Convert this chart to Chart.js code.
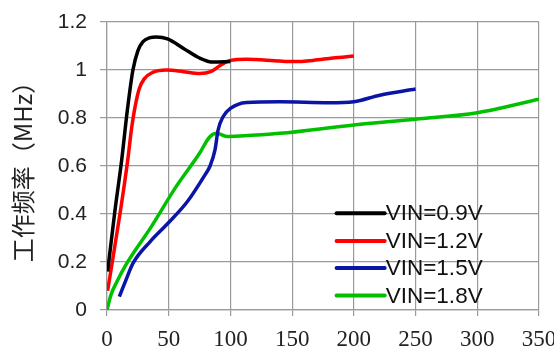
<!DOCTYPE html>
<html lang="zh">
<head>
    <meta charset="UTF-8">
    <title>工作频率</title>
    <script src="https://cdn.jsdelivr.net/npm/chart.js"></script>
    <style>
        html, body { margin: 0; padding: 0; background: #fff; }
        #wrap { width: 554px; height: 350px; }
    </style>
</head>
<body>
    <div id="wrap"><canvas id="freqChart"></canvas></div>

    <script>
        // series data
        const vin09X = [0.5, 6.5, 11.9, 16.5, 21, 25, 29, 35, 40, 49, 62, 75, 86, 100];
        const vin09Y = [0.16, 0.417, 0.625, 0.833, 1.0, 1.08, 1.117, 1.135, 1.138, 1.13, 1.09, 1.05, 1.033, 1.035];

        const vin12X = [0.5, 11, 16.8, 20, 22.5, 26, 30, 37, 48, 62, 75, 84, 92, 100, 113, 140, 151, 167, 183, 200];
        const vin12Y = [0.08, 0.417, 0.625, 0.76, 0.84, 0.92, 0.962, 0.99, 1.0, 0.993, 0.985, 0.993, 1.02, 1.04, 1.045, 1.037, 1.035, 1.04, 1.05, 1.058];

        const vin15X = [10, 15, 21, 35, 48, 65, 79, 83.5, 87.5, 90, 94, 100, 113, 140, 180, 200, 221, 250];
        const vin15Y = [0.056, 0.12, 0.194, 0.285, 0.354, 0.451, 0.56, 0.6, 0.667, 0.75, 0.805, 0.84, 0.865, 0.868, 0.864, 0.868, 0.895, 0.921];

        const vin18X = [0, 3, 8, 16, 35, 56, 75, 83, 89, 97, 108, 140, 200, 250, 300, 350];
        const vin18Y = [0, 0.06, 0.118, 0.194, 0.34, 0.514, 0.653, 0.72, 0.736, 0.723, 0.725, 0.736, 0.771, 0.795, 0.822, 0.878];

        const seriesLabels = ['VIN=0.9V', 'VIN=1.2V', 'VIN=1.5V', 'VIN=1.8V'];
        const seriesColors = ['#000000', '#ff0000', '#0a14a6', '#00c000'];
        const yTickLabels = ['0', '0.2', '0.4', '0.6', '0.8', '1', '1.2'];
        const xTickLabels = ['0', '50', '100', '150', '200', '250', '300', '350'];

        const toPoints = (xs, ys) => xs.map((x, i) => ({ x: x, y: ys[i] }));
        const allX = [vin09X, vin12X, vin15X, vin18X];
        const allY = [vin09Y, vin12Y, vin15Y, vin18Y];

        const datasets = seriesLabels.map((label, i) => ({
            label: label,
            data: toPoints(allX[i], allY[i]),
            borderColor: seriesColors[i],
            backgroundColor: seriesColors[i],
            borderWidth: 3.5,
            pointRadius: 0,
            fill: false,
            cubicInterpolationMode: 'monotone'
        }));

        // legend sits inside the plot, lower right
        const innerLegend = {
            id: 'innerLegend',
            afterDatasetsDraw(chart) {
                const ctx = chart.ctx;
                const xs = chart.scales.x;
                const ys = chart.scales.y;
                const x0 = xs.getPixelForValue(186);
                const x1 = xs.getPixelForValue(225);
                const rowY = [0.403, 0.288, 0.175, 0.06];
                ctx.save();
                ctx.font = '22.5px "Liberation Sans", Arial, sans-serif';
                ctx.textBaseline = 'middle';
                ctx.lineCap = 'round';
                chart.data.datasets.forEach((ds, i) => {
                    const y = ys.getPixelForValue(rowY[i]);
                    ctx.strokeStyle = ds.borderColor;
                    ctx.lineWidth = 4;
                    ctx.beginPath();
                    ctx.moveTo(x0, y);
                    ctx.lineTo(x1, y);
                    ctx.stroke();
                    ctx.fillStyle = '#111';
                    ctx.fillText(ds.label, x1 + 1, y + 1);
                });
                ctx.restore();
            }
        };

        const ctx = document.getElementById('freqChart').getContext('2d');
        const chart = new Chart(ctx, {
            type: 'line',
            data: { datasets: datasets },
            plugins: [innerLegend],
            options: {
                responsive: true,
                maintainAspectRatio: false,
                animation: false,
                layout: { padding: { top: 22, right: 15, left: 0, bottom: 0 } },
                plugins: {
                    legend: { display: false },
                    tooltip: { enabled: false }
                },
                scales: {
                    x: {
                        type: 'linear',
                        min: 0,
                        max: 350,
                        ticks: {
                            stepSize: 50,
                            padding: 10,
                            color: '#222',
                            font: { family: '"Liberation Serif", "DejaVu Serif", "Times New Roman", serif', size: 23 },
                            callback: (v, i) => xTickLabels[i]
                        },
                        grid: { color: '#9a9a9a', lineWidth: 1.2, tickLength: 6 },
                        border: { color: '#9a9a9a', width: 1.2 },
                        afterFit: (s) => { s.height = 40; s.paddingLeft = 0; s.paddingRight = 0; }
                    },
                    y: {
                        min: 0,
                        max: 1.2,
                        ticks: {
                            stepSize: 0.2,
                            padding: 13,
                            color: '#222',
                            font: { family: '"Liberation Sans", Arial, sans-serif', size: 21 },
                            callback: (v, i) => yTickLabels[i]
                        },
                        grid: { color: '#9a9a9a', lineWidth: 1.2, tickLength: 7 },
                        border: { color: '#9a9a9a', width: 1.2 },
                        title: {
                            display: true,
                            text: '工作频率（MHz）',
                            color: '#222',
                            font: { family: '"Noto Sans CJK SC", sans-serif', size: 24 },
                            padding: { top: 8, bottom: 0 }
                        },
                        afterFit: (s) => { s.width = 107; s.paddingTop = 0; s.paddingBottom = 0; }
                    }
                }
            }
        });
    </script>
</body>
</html>
